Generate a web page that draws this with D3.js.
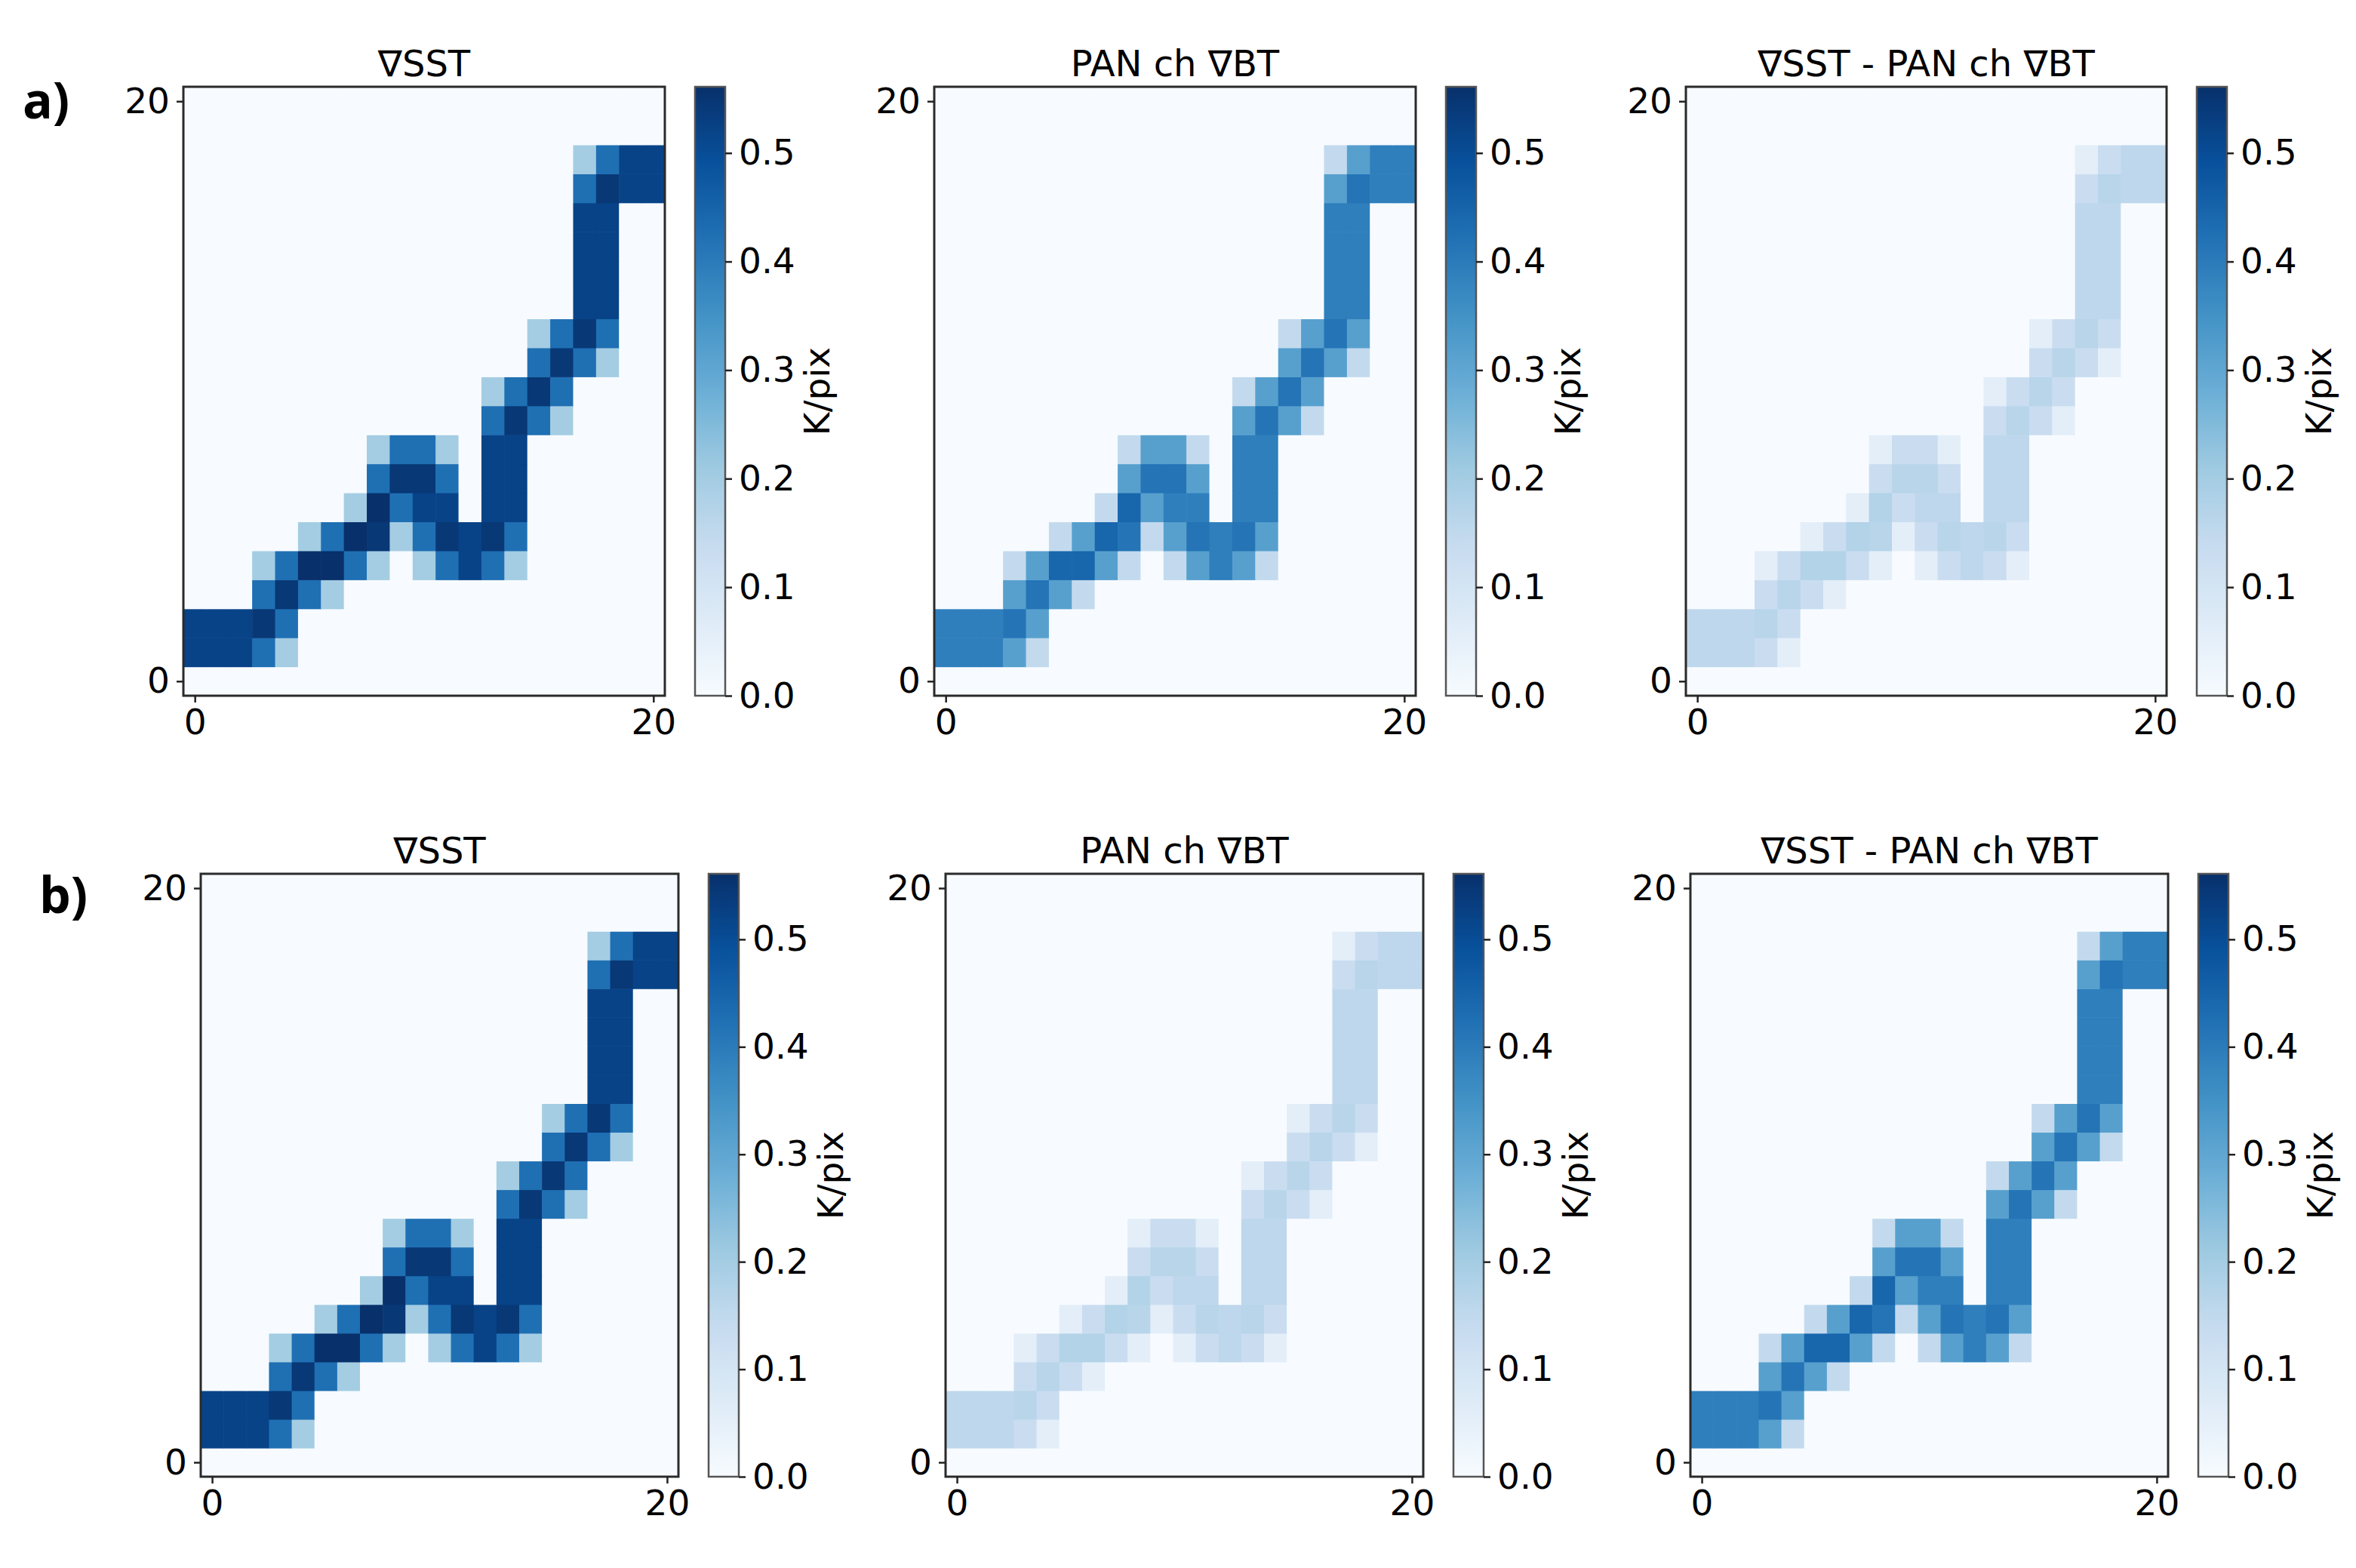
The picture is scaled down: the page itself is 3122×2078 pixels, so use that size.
<!DOCTYPE html>
<html>
<head>
<meta charset="utf-8">
<script src="https://cdn.jsdelivr.net/npm/d3@7"></script>
<style>
  body { margin: 0; background: #fff; }
  svg { display: block; }
</style>
</head>
<body>
<svg id="chart"></svg>
<script>
// grid 21 x 21, cells listed per row as [y, first x, values...]
const gridSize = 21;
const axisTicks = [0, 20];
const cbarTicks = [0.0, 0.1, 0.2, 0.3, 0.4, 0.5];
const vmax = 0.561;
const bluesStops = ["#f7fbff", "#deebf7", "#c6dbef", "#9ecae1", "#6baed6", "#4292c6", "#2171b5", "#08519c", "#08306b"];

const panelTitles = ["∇SST", "PAN ch ∇BT", "∇SST - PAN ch ∇BT"];
const rowLabels = ["a)", "b)"];

// row a
const sstA = [
  [18, 17, [0.2, 0.425, 0.52, 0.52]],
  [17, 17, [0.425, 0.545, 0.52, 0.52]],
  [16, 17, [0.52, 0.52]],
  [15, 17, [0.52, 0.52]],
  [14, 17, [0.52, 0.52]],
  [13, 17, [0.52, 0.52]],
  [12, 15, [0.2, 0.425, 0.545, 0.425]],
  [11, 15, [0.425, 0.545, 0.425, 0.2]],
  [10, 13, [0.2, 0.425, 0.545, 0.425]],
  [9, 13, [0.425, 0.545, 0.425, 0.2]],
  [8, 8, [0.2, 0.425, 0.425, 0.2, 0, 0.52, 0.52]],
  [7, 8, [0.425, 0.545, 0.545, 0.425, 0, 0.52, 0.52]],
  [6, 7, [0.2, 0.57, 0.425, 0.52, 0.52, 0, 0.52, 0.52]],
  [5, 5, [0.2, 0.425, 0.57, 0.545, 0.2, 0.425, 0.545, 0.52, 0.545, 0.425]],
  [4, 3, [0.2, 0.425, 0.57, 0.57, 0.425, 0.2, 0, 0.2, 0.425, 0.52, 0.425, 0.2]],
  [3, 3, [0.425, 0.545, 0.425, 0.2]],
  [2, 0, [0.52, 0.52, 0.52, 0.545, 0.425]],
  [1, 0, [0.52, 0.52, 0.52, 0.425, 0.2]]
];
const panA = [
  [18, 17, [0.145, 0.315, 0.39, 0.39]],
  [17, 17, [0.315, 0.415, 0.39, 0.39]],
  [16, 17, [0.39, 0.39]],
  [15, 17, [0.39, 0.39]],
  [14, 17, [0.39, 0.39]],
  [13, 17, [0.39, 0.39]],
  [12, 15, [0.145, 0.315, 0.415, 0.315]],
  [11, 15, [0.315, 0.415, 0.315, 0.145]],
  [10, 13, [0.145, 0.315, 0.415, 0.315]],
  [9, 13, [0.315, 0.415, 0.315, 0.145]],
  [8, 8, [0.145, 0.315, 0.315, 0.145, 0, 0.39, 0.39]],
  [7, 8, [0.315, 0.415, 0.415, 0.315, 0, 0.39, 0.39]],
  [6, 7, [0.145, 0.445, 0.315, 0.39, 0.39, 0, 0.39, 0.39]],
  [5, 5, [0.145, 0.315, 0.445, 0.415, 0.145, 0.315, 0.415, 0.39, 0.415, 0.315]],
  [4, 3, [0.145, 0.315, 0.445, 0.445, 0.315, 0.145, 0, 0.145, 0.315, 0.39, 0.315, 0.145]],
  [3, 3, [0.315, 0.415, 0.315, 0.145]],
  [2, 0, [0.39, 0.39, 0.39, 0.415, 0.315]],
  [1, 0, [0.39, 0.39, 0.39, 0.315, 0.145]]
];
const diffA = [
  [18, 17, [0.055, 0.13, 0.155, 0.155]],
  [17, 17, [0.13, 0.165, 0.155, 0.155]],
  [16, 17, [0.155, 0.155]],
  [15, 17, [0.155, 0.155]],
  [14, 17, [0.155, 0.155]],
  [13, 17, [0.155, 0.155]],
  [12, 15, [0.055, 0.13, 0.165, 0.13]],
  [11, 15, [0.13, 0.165, 0.13, 0.055]],
  [10, 13, [0.055, 0.13, 0.165, 0.13]],
  [9, 13, [0.13, 0.165, 0.13, 0.055]],
  [8, 8, [0.055, 0.13, 0.13, 0.055, 0, 0.155, 0.155]],
  [7, 8, [0.13, 0.165, 0.165, 0.13, 0, 0.155, 0.155]],
  [6, 7, [0.055, 0.175, 0.13, 0.155, 0.155, 0, 0.155, 0.155]],
  [5, 5, [0.055, 0.13, 0.175, 0.165, 0.055, 0.13, 0.165, 0.155, 0.165, 0.13]],
  [4, 3, [0.055, 0.13, 0.175, 0.175, 0.13, 0.055, 0, 0.055, 0.13, 0.155, 0.13, 0.055]],
  [3, 3, [0.13, 0.165, 0.13, 0.055]],
  [2, 0, [0.155, 0.155, 0.155, 0.165, 0.13]],
  [1, 0, [0.155, 0.155, 0.155, 0.13, 0.055]]
];

// row b
const sstB = [
  [18, 17, [0.2, 0.425, 0.52, 0.52]],
  [17, 17, [0.425, 0.545, 0.52, 0.52]],
  [16, 17, [0.52, 0.52]],
  [15, 17, [0.52, 0.52]],
  [14, 17, [0.52, 0.52]],
  [13, 17, [0.52, 0.52]],
  [12, 15, [0.2, 0.425, 0.545, 0.425]],
  [11, 15, [0.425, 0.545, 0.425, 0.2]],
  [10, 13, [0.2, 0.425, 0.545, 0.425]],
  [9, 13, [0.425, 0.545, 0.425, 0.2]],
  [8, 8, [0.2, 0.425, 0.425, 0.2, 0, 0.52, 0.52]],
  [7, 8, [0.425, 0.545, 0.545, 0.425, 0, 0.52, 0.52]],
  [6, 7, [0.2, 0.57, 0.425, 0.52, 0.52, 0, 0.52, 0.52]],
  [5, 5, [0.2, 0.425, 0.57, 0.545, 0.2, 0.425, 0.545, 0.52, 0.545, 0.425]],
  [4, 3, [0.2, 0.425, 0.57, 0.57, 0.425, 0.2, 0, 0.2, 0.425, 0.52, 0.425, 0.2]],
  [3, 3, [0.425, 0.545, 0.425, 0.2]],
  [2, 0, [0.52, 0.52, 0.52, 0.545, 0.425]],
  [1, 0, [0.52, 0.52, 0.52, 0.425, 0.2]]
];
const panB = [
  [18, 17, [0.055, 0.13, 0.155, 0.155]],
  [17, 17, [0.13, 0.165, 0.155, 0.155]],
  [16, 17, [0.155, 0.155]],
  [15, 17, [0.155, 0.155]],
  [14, 17, [0.155, 0.155]],
  [13, 17, [0.155, 0.155]],
  [12, 15, [0.055, 0.13, 0.165, 0.13]],
  [11, 15, [0.13, 0.165, 0.13, 0.055]],
  [10, 13, [0.055, 0.13, 0.165, 0.13]],
  [9, 13, [0.13, 0.165, 0.13, 0.055]],
  [8, 8, [0.055, 0.13, 0.13, 0.055, 0, 0.155, 0.155]],
  [7, 8, [0.13, 0.165, 0.165, 0.13, 0, 0.155, 0.155]],
  [6, 7, [0.055, 0.175, 0.13, 0.155, 0.155, 0, 0.155, 0.155]],
  [5, 5, [0.055, 0.13, 0.175, 0.165, 0.055, 0.13, 0.165, 0.155, 0.165, 0.13]],
  [4, 3, [0.055, 0.13, 0.175, 0.175, 0.13, 0.055, 0, 0.055, 0.13, 0.155, 0.13, 0.055]],
  [3, 3, [0.13, 0.165, 0.13, 0.055]],
  [2, 0, [0.155, 0.155, 0.155, 0.165, 0.13]],
  [1, 0, [0.155, 0.155, 0.155, 0.13, 0.055]]
];
const diffB = [
  [18, 17, [0.145, 0.315, 0.39, 0.39]],
  [17, 17, [0.315, 0.415, 0.39, 0.39]],
  [16, 17, [0.39, 0.39]],
  [15, 17, [0.39, 0.39]],
  [14, 17, [0.39, 0.39]],
  [13, 17, [0.39, 0.39]],
  [12, 15, [0.145, 0.315, 0.415, 0.315]],
  [11, 15, [0.315, 0.415, 0.315, 0.145]],
  [10, 13, [0.145, 0.315, 0.415, 0.315]],
  [9, 13, [0.315, 0.415, 0.315, 0.145]],
  [8, 8, [0.145, 0.315, 0.315, 0.145, 0, 0.39, 0.39]],
  [7, 8, [0.315, 0.415, 0.415, 0.315, 0, 0.39, 0.39]],
  [6, 7, [0.145, 0.445, 0.315, 0.39, 0.39, 0, 0.39, 0.39]],
  [5, 5, [0.145, 0.315, 0.445, 0.415, 0.145, 0.315, 0.415, 0.39, 0.415, 0.315]],
  [4, 3, [0.145, 0.315, 0.445, 0.445, 0.315, 0.145, 0, 0.145, 0.315, 0.39, 0.315, 0.145]],
  [3, 3, [0.315, 0.415, 0.315, 0.145]],
  [2, 0, [0.39, 0.39, 0.39, 0.415, 0.315]],
  [1, 0, [0.39, 0.39, 0.39, 0.315, 0.145]]
];

const width = 3122, height = 2078;
const FONT = "'DejaVu Sans', sans-serif";
const FS = 47;

const svg = d3.select("#chart").attr("width", width).attr("height", height);

// Blues colormap as a linear d3 scale (matches matplotlib's segment interpolation)
const color = d3.scaleLinear()
  .domain(bluesStops.map((_, i) => i / (bluesStops.length - 1) * vmax))
  .range(bluesStops)
  .interpolate(d3.interpolateRgb)
  .clamp(true);

// colorbar gradient, shared by all six bars
const grad = svg.append("defs").append("linearGradient")
  .attr("id", "bluesGrad")
  .attr("x1", 0).attr("y1", 1).attr("x2", 0).attr("y2", 0);
d3.range(0, 1.0001, 0.025).forEach(t => {
  grad.append("stop").attr("offset", t).attr("stop-color", color(t * vmax));
});

// turn [y, x0, values] rows into a full 21 x 21 list of cells
function toCells(rows) {
  const cells = [];
  for (let y = 0; y < gridSize; y++)
    for (let x = 0; x < gridSize; x++) cells.push({ x: x, y: y, v: 0 });
  rows.forEach(([y, x0, vals]) => {
    vals.forEach((v, i) => { cells[y * gridSize + x0 + i].v = v; });
  });
  return cells;
}

const panels = [
  { data: sstA,  title: panelTitles[0], box: [243, 881, 115, 922] },
  { data: panA,  title: panelTitles[1], box: [1238, 1876, 115, 922] },
  { data: diffA, title: panelTitles[2], box: [2234, 2871, 115, 922] },
  { data: sstB,  title: panelTitles[0], box: [266, 899, 1158, 1957] },
  { data: panB,  title: panelTitles[1], box: [1253, 1886, 1158, 1957] },
  { data: diffB, title: panelTitles[2], box: [2240, 2873, 1158, 1957] }
];

function styleAxis(g) {
  g.select(".domain").remove();
  g.selectAll(".tick line").attr("stroke", "#222").attr("stroke-width", 2.5);
  g.selectAll(".tick text")
    .attr("fill", "#000")
    .style("font-family", FONT)
    .style("font-size", FS + "px");
}

panels.forEach(p => {
  const [x0, x1, y0, y1] = p.box;
  const x = d3.scaleLinear().domain([-0.5, gridSize - 0.5]).range([x0, x1]);
  const y = d3.scaleLinear().domain([-0.5, gridSize - 0.5]).range([y1, y0]);
  const g = svg.append("g");

  g.selectAll("rect.cell")
    .data(toCells(p.data))
    .enter()
    .append("rect")
    .attr("class", "cell")
    .attr("x", d => x(d.x - 0.5))
    .attr("y", d => y(d.y + 0.5))
    .attr("width", d => x(d.x + 0.5) - x(d.x - 0.5) + 0.6)
    .attr("height", d => y(d.y - 0.5) - y(d.y + 0.5) + 0.6)
    .attr("fill", d => color(d.v));

  // frame
  g.append("rect")
    .attr("x", x0).attr("y", y0)
    .attr("width", x1 - x0).attr("height", y1 - y0)
    .attr("fill", "none")
    .attr("stroke", "#2a2a2a")
    .attr("stroke-width", 3);

  g.append("g")
    .attr("transform", `translate(0,${y1})`)
    .call(d3.axisBottom(x).tickValues(axisTicks).tickSize(9).tickPadding(9))
    .call(styleAxis);
  g.append("g")
    .attr("transform", `translate(${x0},0)`)
    .call(d3.axisLeft(y).tickValues(axisTicks).tickSize(9).tickPadding(9))
    .call(styleAxis);

  g.append("text")
    .attr("x", (x0 + x1) / 2)
    .attr("y", y0 - 14)
    .attr("text-anchor", "middle")
    .style("font-family", FONT)
    .style("font-size", (FS + 1) + "px")
    .text(p.title);

  // colorbar
  const cx0 = x1 + 40, cw = 40;
  const cy = d3.scaleLinear().domain([0, vmax]).range([y1, y0]);
  g.append("rect")
    .attr("x", cx0).attr("y", y0)
    .attr("width", cw).attr("height", y1 - y0)
    .attr("fill", "url(#bluesGrad)")
    .attr("stroke", "#555")
    .attr("stroke-width", 2.5);
  g.append("g")
    .attr("transform", `translate(${cx0 + cw},0)`)
    .call(d3.axisRight(cy).tickValues(cbarTicks).tickFormat(d3.format(".1f")).tickSize(9).tickPadding(9))
    .call(styleAxis);
  g.append("text")
    .attr("transform", `translate(${cx0 + cw + 122},${(y0 + y1) / 2}) rotate(-90)`)
    .attr("text-anchor", "middle")
    .attr("dy", "0.35em")
    .style("font-family", FONT)
    .style("font-size", FS + "px")
    .text("K/pix");
});

// row labels
svg.selectAll("text.rowlab")
  .data(rowLabels)
  .enter()
  .append("text")
  .attr("class", "rowlab")
  .attr("x", (d, i) => [30, 52][i])
  .attr("y", (d, i) => [157, 1210][i])
  .style("font-family", "'Open Sans', sans-serif")
  .style("font-weight", 700)
  .style("font-size", "66px")
  .text(d => d);
</script>
</body>
</html>
